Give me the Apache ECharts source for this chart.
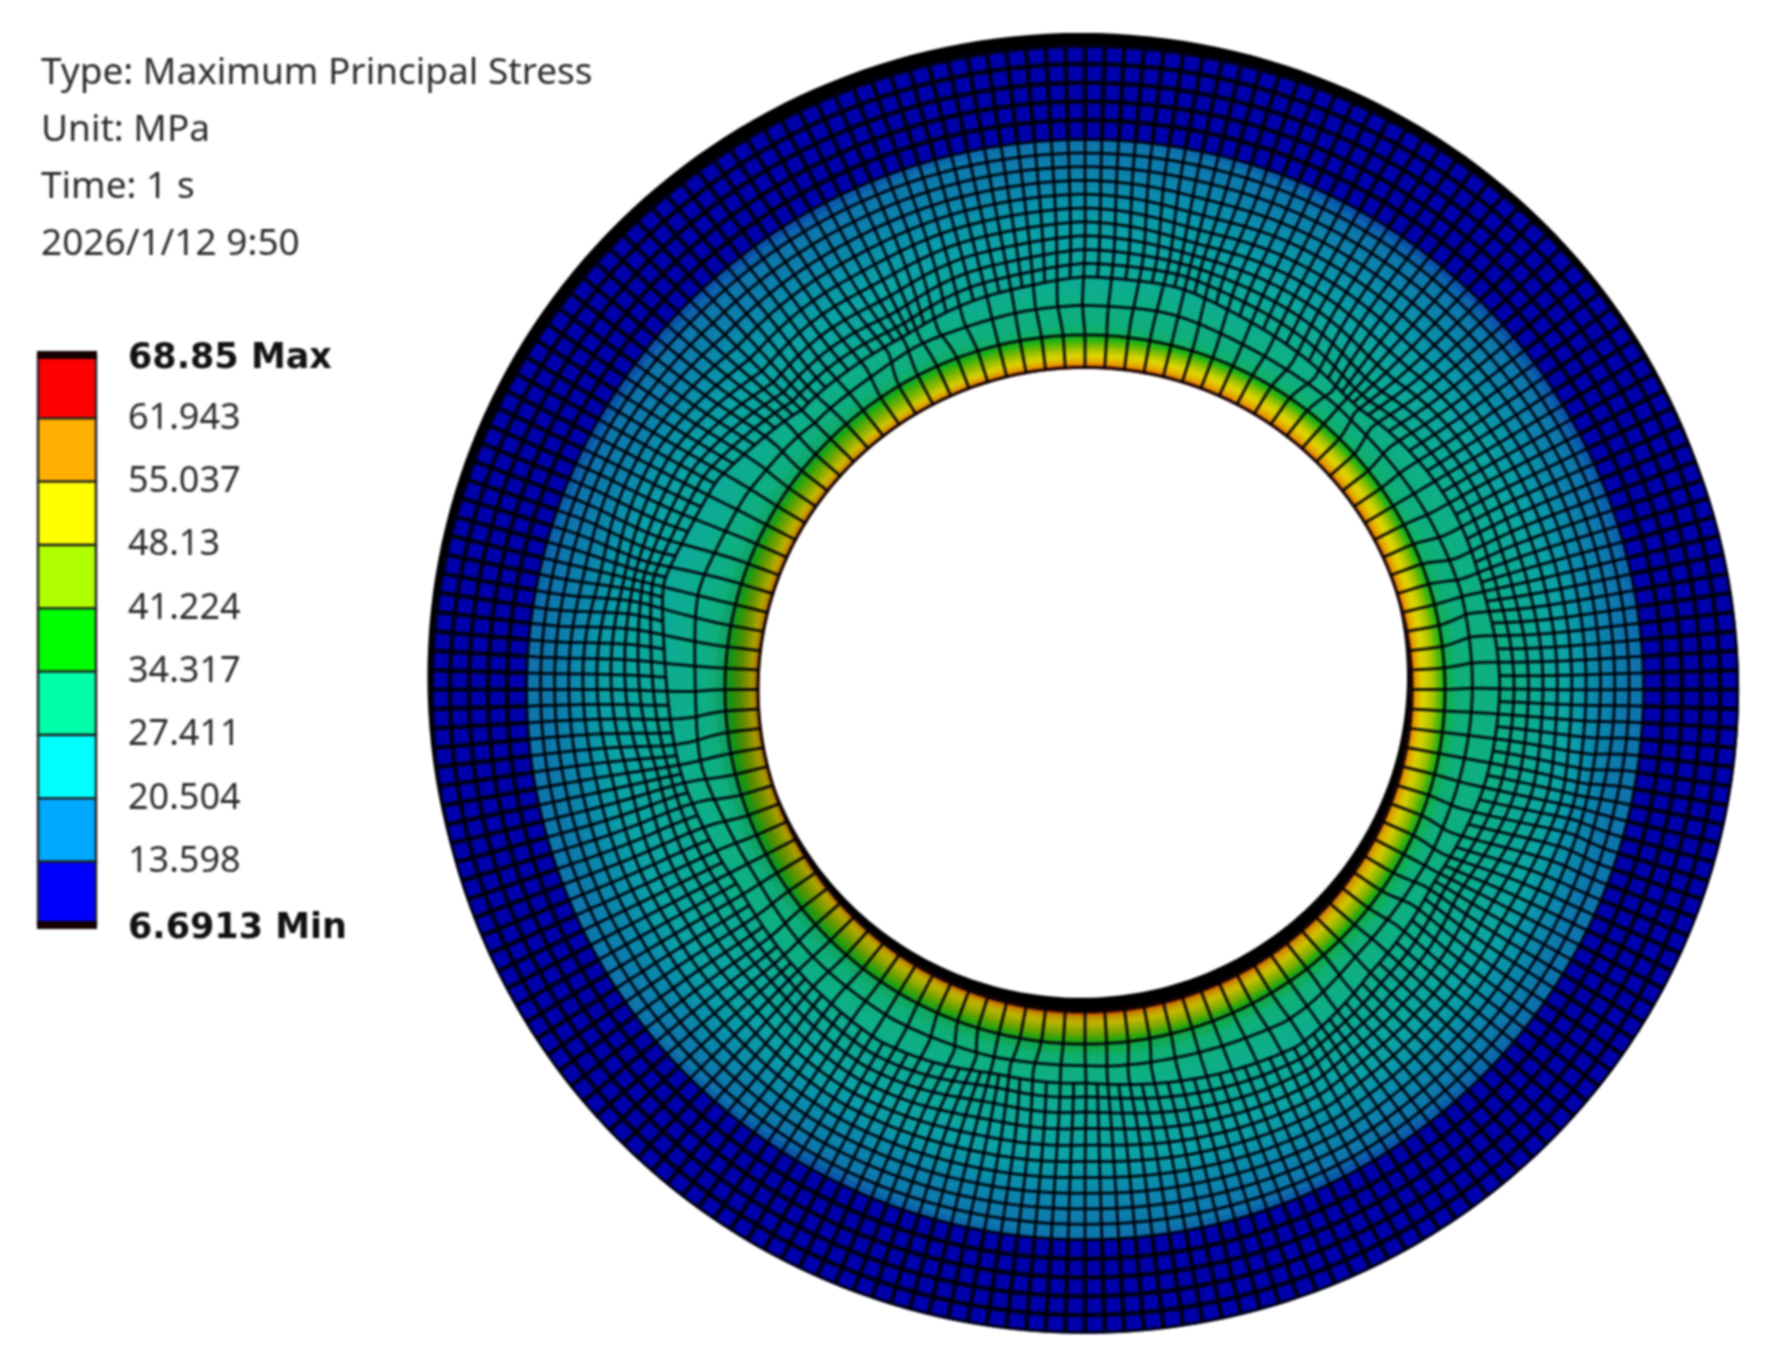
<!DOCTYPE html>
<html>
<head>
<meta charset="utf-8">
<style>
html,body{margin:0;padding:0;background:#fff}
#chart{width:1771px;height:1368px;filter:blur(1.1px)}
</style>
<script src="https://cdn.jsdelivr.net/npm/echarts@6/dist/echarts.min.js"></script>
</head>
<body>
<div id="chart"></div>
<script>
// ---- text ----
const headerLines = ['Type: Maximum Principal Stress', 'Unit: MPa', 'Time: 1 s', '2026/1/12 9:50'];
// ---- contour legend ----
const legendLevels = [68.85, 61.943, 55.037, 48.13, 41.224, 34.317, 27.411, 20.504, 13.598, 6.6913];
const legendTexts  = ['68.85 Max', '61.943', '55.037', '48.13', '41.224', '34.317', '27.411', '20.504', '13.598', '6.6913 Min'];
const legendColors = ['#ff0000', '#ffb000', '#ffff00', '#b0ff00', '#00ff00', '#00ffa8', '#00ffff', '#00a8ff', '#0000ff'];
// ---- stress, MPa: rows = radius stations, columns = sectors ----
const sectorAngles = [0, 30, 60, 90, 120, 150, 180, 210, 240, 270, 300, 330];
const sectorLight  = [1, 1, 1, 1, .95, .85, .72, .76, .85, .85, .9, .95];
const stationRadii = [326, 329, 333, 338, 344, 350, 356, 363, 373, 393, 423, 453, 483, 513, 541, 557];
const stressTable = [
  [66, 66, 66, 66, 66, 65, 64, 66, 67, 69, 68, 66],
  [60, 60, 60, 61, 59, 59, 58, 58, 60, 63, 61, 59],
  [55, 56, 56, 56, 54, 54, 52, 52, 54, 56, 56, 55],
  [51, 52, 52, 52, 49, 49, 48, 48, 50, 52, 52, 52],
  [49, 49, 49, 48, 45, 45, 44, 45, 47, 48, 48, 48],
  [46, 44, 44, 43, 41, 41, 40, 41, 42, 44, 44, 44],
  [40, 38, 38, 38, 37, 37, 37, 37, 38, 39, 38, 38],
  [35, 34, 34, 34, 34, 34, 34, 34, 34, 35, 35, 35],
  [32, 31, 31, 31, 31, 31, 31, 31, 32, 33, 32, 32],
  [31, 30, 29, 30, 29, 29, 29, 30, 30, 30, 30, 30],
  [30, 27, 27, 26, 26, 26, 27, 27, 27, 27, 27, 28],
  [27, 25, 24, 24, 24, 24, 25, 25, 25, 25, 25, 26],
  [24, 22, 21, 22, 21, 21, 23, 23, 22, 23, 22, 24],
  [18, 18, 18, 18, 17, 17, 18, 19, 18, 18, 18, 19],
  [15, 15, 15, 16, 15, 15, 15, 16, 15, 16, 15, 15],
  [15, 14, 14, 15, 14, 14, 15, 15, 14, 15, 14, 15]
];
const outerBandStress = 8;
// ---- colour of a stress value as it appears under the plot's lighting ----
const shadeValues = [12, 15, 18, 21, 24, 29, 33, 37, 44, 51, 58, 64, 69];
const shadeColors = [[0,0,172],[14,118,172],[12,135,172],[10,150,170],[12,165,165],[14,175,138],[16,176,112],[22,178,24],[130,190,0],[226,214,0],[230,150,0],[200,30,0],[70,0,0]];
// ---- mesh ----
const holeRadius = 326, rimRadius = 360, bandRadius = 558.5, outerRadius = 653.6;
const outerRingRadii = [578, 597, 616, 635];
const innerSpokes = 104;
const fineRows = 10;
const coarseLimit = [415, 418, 410, 400, 405, 412, 420, 414, 405, 398, 425, 428, 418, 410, 400, 404, 412, 408, 402, 410, 420, 405, 402, 410];
const singularAngles = [116, 99, 76.5, 48.5, 14.6, 347, 332, 256.5, 272.7, 191.6, 166, 135, 224, 305];
const singularRadii  = [394, 392, 445, 387, 388, 514, 394, 384, 390, 416, 460, 413, 410, 420];
const singularPull   = [.4, .16, .22, .4, .3, .2, .26, .34, .18, .26, .3, .22, .14, .14];
const wallShift = [-4, 13];

const rad = Math.PI / 180;
function warp(x, y) {
  const r = Math.hypot(x, y);
  const t = Math.max(0, Math.min(1, (r - rimRadius) / 30)) * Math.max(0, Math.min(1, (bandRadius - 10 - r) / 40));
  let dx = 0, dy = 0;
  if (t > 0) singularAngles.forEach((a, i) => {
    const sx = singularRadii[i] * Math.cos(a * rad), sy = singularRadii[i] * Math.sin(a * rad);
    const f = singularPull[i] * Math.exp(-((x - sx) ** 2 + (y - sy) ** 2) / (2 * 40 * 40));
    dx += (sx - x) * f; dy += (sy - y) * f;
  });
  return [x + dx * t, y + dy * t];
}
function node(r, deg) { return warp(r * Math.cos(deg * rad), r * Math.sin(deg * rad)); }
function coarseAt(deg) {
  const s = coarseLimit.length, p = ((deg % 360) + 360) % 360 / (360 / s), i = Math.floor(p), f = p - i;
  return coarseLimit[i % s] * (1 - f) + coarseLimit[(i + 1) % s] * f;
}
function sectorBlend(arr, deg) {
  const p = ((deg % 360) + 360) % 360 / 30, a = Math.floor(p) % 12, b = (a + 1) % 12, v = p - Math.floor(p);
  return arr[a] * (1 - v) + arr[b] * v;
}
function stressAt(r, deg) {
  if (r >= bandRadius) return outerBandStress;
  let j = 0;
  while (j < stationRadii.length - 2 && r > stationRadii[j + 1]) j++;
  const u = Math.max(0, Math.min(1, (r - stationRadii[j]) / (stationRadii[j + 1] - stationRadii[j])));
  return sectorBlend(stressTable[j], deg) * (1 - u) + sectorBlend(stressTable[j + 1], deg) * u;
}
function shade(val, light) {
  let c = shadeColors[shadeColors.length - 1];
  if (val <= shadeValues[0]) c = shadeColors[0];
  else for (let i = 1; i < shadeValues.length; i++) {
    if (val <= shadeValues[i]) {
      const f = (val - shadeValues[i - 1]) / (shadeValues[i] - shadeValues[i - 1]);
      c = shadeColors[i - 1].map((q, k) => q + (shadeColors[i][k] - q) * f);
      break;
    }
  }
  return 'rgb(' + c.map(q => Math.round(q * light)).join(',') + ')';
}

// field patches
const fieldRadii = [];
for (let r = holeRadius; r < 363; r += 2.5) fieldRadii.push(r);
for (let r = 363; r < bandRadius; r += 7) fieldRadii.push(r);
fieldRadii.push(bandRadius, outerRadius);
const fieldData = [];
const fieldSectors = 180;
for (let i = 0; i < fieldSectors; i++) {
  for (let j = 0; j < fieldRadii.length - 1; j++) {
    const a0 = i * 360 / fieldSectors, a1 = (i + 1) * 360 / fieldSectors;
    const r0 = fieldRadii[j], r1 = fieldRadii[j + 1], rm = (r0 + r1) / 2;
    const lit = 1 - (1 - sectorBlend(sectorLight, (a0 + a1) / 2)) * Math.max(0, Math.min(1, (375 - rm) / 30));
    fieldData.push([r0, r1, a0, a1, stressAt(rm, (a0 + a1) / 2), lit]);
  }
}
// mesh polylines
const meshLines = [];
const ringSteps = 416;
function ring(fn, width) {
  const pts = [];
  for (let i = 0; i <= ringSteps; i++) { const a = i * 360 / ringSteps; pts.push(node(fn(a), a)); }
  meshLines.push({ pts, width });
}
function spoke(a, fnFrom, fnTo, width) {
  const pts = [], r0 = fnFrom(a), r1 = fnTo(a), n = Math.max(2, Math.ceil((r1 - r0) / 10));
  for (let i = 0; i <= n; i++) pts.push(node(r0 + (r1 - r0) * i / n, a));
  meshLines.push({ pts, width });
}
const midW = 3, outW = 4.6;
ring(() => holeRadius + 1, midW);
ring(() => rimRadius, midW);
ring(a => (rimRadius + coarseAt(a)) / 2, midW);
for (let k = 0; k < fineRows; k++) ring(a => coarseAt(a) + (bandRadius - coarseAt(a)) * k / fineRows, midW);
ring(() => bandRadius, midW);
outerRingRadii.forEach(r => ring(() => r, outW));
ring(() => outerRadius - 1, midW);
for (let i = 0; i < innerSpokes * 2; i++) {
  const a = i * 180 / innerSpokes;
  if (i % 2 === 0) spoke(a, () => holeRadius, coarseAt, midW);
  spoke(a, coarseAt, () => bandRadius, midW);
  spoke(a, () => bandRadius, () => outerRadius, outW);
}

function ellipsePoints(api, cx, cy, r) {
  const pts = [];
  for (let i = 0; i < 240; i++) pts.push(api.coord([cx + r * Math.cos(i * 1.5 * rad), cy + r * Math.sin(i * 1.5 * rad)]));
  return pts;
}

const chart = echarts.init(document.getElementById('chart'), null, { renderer: 'canvas' });
const font = '"Noto Sans", "Open Sans", sans-serif';
chart.setOption({
  animation: false,
  backgroundColor: '#ffffff',
  grid: [
    { left: 0, right: 0, top: 0, bottom: 0 },
    { left: 38, top: 355, width: 58, height: 570 }
  ],
  xAxis: [
    { type: 'value', gridIndex: 0, min: -1085, max: 686, show: false },
    { type: 'value', gridIndex: 1, min: 0, max: 1, show: false }
  ],
  yAxis: [
    { type: 'value', gridIndex: 0, min: -688.8, max: 700.0, show: false },
    {
      type: 'value', gridIndex: 1, position: 'right', min: 6.6913, max: 68.85, scale: true,
      axisLine: { show: false }, axisTick: { show: false }, splitLine: { show: false },
      axisLabel: {
        customValues: legendLevels, margin: 32, color: '#2b2b2b', fontFamily: font, fontSize: 36,
        formatter: v => {
          const i = legendLevels.indexOf(v);
          const t = legendTexts[i];
          return (i === 0 || i === legendLevels.length - 1) ? '{b|' + t + '}' : t;
        },
        rich: { b: { fontFamily: '"DejaVu Sans", sans-serif', fontSize: 35, fontWeight: 'bold', color: '#111', padding: [7, 0, 0, 0] } }
      }
    }
  ],
  graphic: headerLines.map((t, i) => ({
    type: 'text', x: 41, y: 73 + i * 57, silent: true,
    style: { text: t, fontFamily: font, fontSize: 37, fill: '#2b2b2b', verticalAlign: 'middle', align: 'left' }
  })),
  series: [
    {
      type: 'custom', name: 'wall', xAxisIndex: 0, yAxisIndex: 0, silent: true, clip: false,
      data: [[outerRadius, 0], [holeRadius, 1]],
      renderItem: (p, api) => {
        const r = api.value(0), hole = api.value(1);
        return {
          type: 'polygon', shape: { points: ellipsePoints(api, wallShift[0], wallShift[1], r) },
          style: { fill: hole ? '#ffffff' : '#000000' }
        };
      }
    },
    {
      type: 'custom', name: 'stress', xAxisIndex: 0, yAxisIndex: 0, silent: true, clip: false, progressive: 0,
      data: fieldData,
      renderItem: (p, api) => {
        const r0 = api.value(0), r1 = api.value(1), a0 = api.value(2) * rad, a1 = api.value(3) * rad;
        const col = shade(api.value(4), api.value(5));
        return {
          type: 'polygon',
          shape: { points: [[r0, a0], [r1, a0], [r1, a1], [r0, a1]].map(q => api.coord([q[0] * Math.cos(q[1]), q[0] * Math.sin(q[1])])) },
          style: { fill: col, stroke: col, lineWidth: 1 }
        };
      }
    },
    {
      type: 'custom', name: 'mesh', xAxisIndex: 0, yAxisIndex: 0, silent: true, clip: false, progressive: 0,
      data: meshLines.map((m, i) => [i]),
      renderItem: (p, api) => {
        const m = meshLines[p.dataIndex];
        return {
          type: 'polyline', shape: { points: m.pts.map(q => api.coord(q)) },
          style: { fill: null, stroke: '#000008', lineWidth: m.width, opacity: 0.88 }
        };
      }
    },
    {
      type: 'custom', name: 'legend', xAxisIndex: 1, yAxisIndex: 1, silent: true, clip: false,
      data: legendColors.map((c, i) => [legendLevels[i + 1], legendLevels[i]]),
      renderItem: (p, api) => {
        const a = api.coord([0, api.value(1)]), b = api.coord([1, api.value(0)]);
        return {
          type: 'rect', shape: { x: a[0], y: a[1], width: b[0] - a[0], height: b[1] - a[1] },
          style: { fill: legendColors[p.dataIndex], stroke: '#222', lineWidth: 2.4 }
        };
      }
    },
    {
      type: 'custom', name: 'legendCaps', xAxisIndex: 1, yAxisIndex: 1, silent: true, clip: false,
      data: [[legendLevels[0]], [legendLevels[legendLevels.length - 1]]],
      renderItem: (p, api) => {
        const a = api.coord([0, api.value(0)]), b = api.coord([1, api.value(0)]);
        return {
          type: 'line', shape: { x1: a[0] - 1, y1: a[1], x2: b[0] + 1, y2: b[1] },
          style: { stroke: '#150000', lineWidth: 8 }
        };
      }
    }
  ]
});
</script>
</body>
</html>
